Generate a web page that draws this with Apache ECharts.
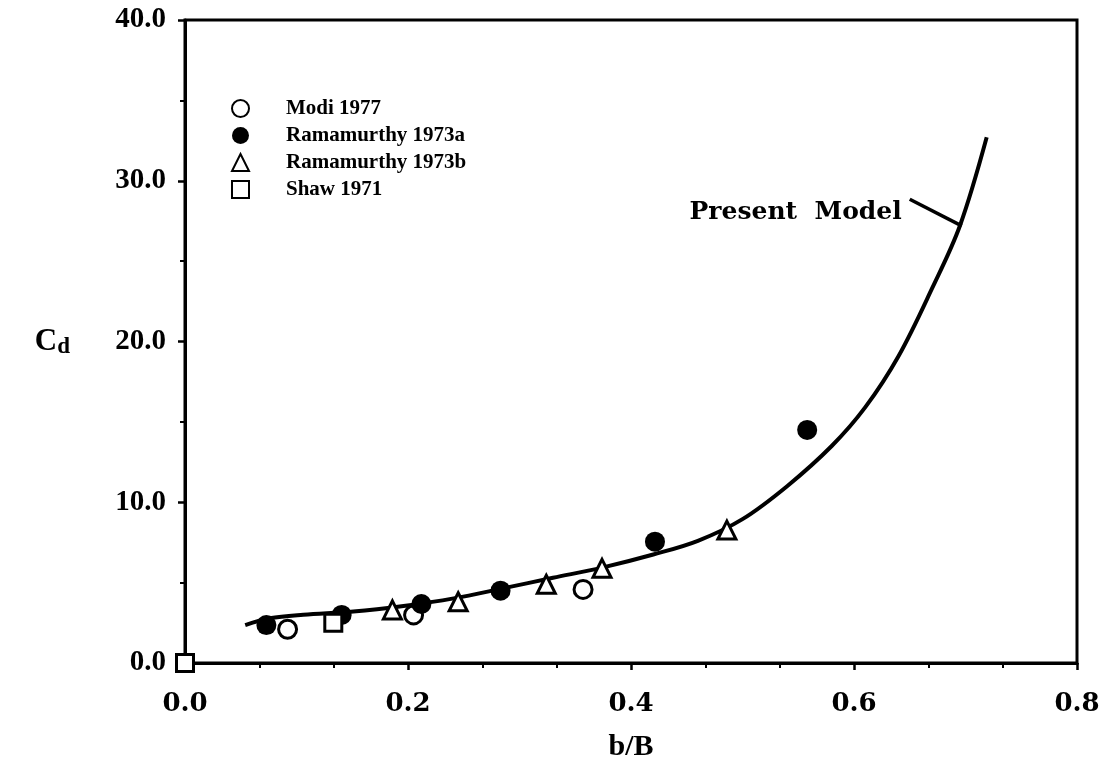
<!DOCTYPE html>
<html>
<head>
<meta charset="utf-8">
<title>Cd vs b/B</title>
<script src="https://cdn.jsdelivr.net/npm/echarts@6/dist/echarts.min.js"></script>
<style>
  html, body { margin: 0; padding: 0; background: #fff; }
  #chart { width: 1112px; height: 775px; }
</style>
</head>
<body>
<div id="chart"></div>
<script>
// data
const modiX = [0.092, 0.205, 0.357]
const modiY = [2.10, 2.99, 4.58]
const ramaAX = [0.073, 0.1405, 0.212, 0.283, 0.4215, 0.558]
const ramaAY = [2.36, 2.99, 3.67, 4.50, 7.55, 14.5]
const ramaBX = [0.186, 0.245, 0.324, 0.374, 0.486]
const ramaBY = [3.30, 3.81, 4.90, 5.89, 8.27]
const shawX = [0.0, 0.133]
const shawY = [0.0, 2.51]

// present model curve
const modelX = [0.054, 0.076, 0.106, 0.151, 0.196, 0.241, 0.285, 0.330, 0.375, 0.420, 0.460, 0.500, 0.540, 0.580, 0.610, 0.640, 0.670, 0.695, 0.719]
const modelY = [2.36, 2.78, 3.00, 3.20, 3.55, 4.02, 4.64, 5.30, 5.95, 6.75, 7.60, 8.95, 11.00, 13.50, 15.90, 19.10, 23.30, 27.20, 32.70]

// leader line for the "Present Model" note
const leaderX = [0.650, 0.6966]
const leaderY = [28.85, 27.19]

const xTicks = [0.0, 0.2, 0.4, 0.6, 0.8]
const yTicks = [0, 10, 20, 30, 40]

const zip = (xs, ys) => xs.map((x, i) => [x, ys[i]])

const serif = 'Liberation Serif'
const wideSerif = 'DejaVu Serif'

const chart = echarts.init(document.getElementById('chart'))

chart.setOption({
  animation: false,
  backgroundColor: '#fff',
  grid: {
    left: 185, right: 35, top: 20, bottom: 112,
    show: true, borderColor: '#000', borderWidth: 3, backgroundColor: 'transparent'
  },
  legend: {
    data: ['Modi 1977', 'Ramamurthy 1973a', 'Ramamurthy 1973b', 'Shaw 1971'],
    orient: 'vertical',
    left: 226, top: 93,
    itemWidth: 17, itemHeight: 17, itemGap: 6,
    textStyle: {
      fontFamily: serif, fontWeight: 'bold', fontSize: 21, color: '#000',
      padding: [0, 0, 0, 32]
    }
  },
  xAxis: {
    type: 'value',
    min: xTicks[0], max: xTicks[xTicks.length - 1], interval: 0.2,
    name: 'b/B', nameLocation: 'middle', nameGap: 69,
    nameTextStyle: { fontFamily: serif, fontWeight: 'bold', fontSize: 30, color: '#000' },
    axisLine: { lineStyle: { color: '#000', width: 3 } },
    axisTick: { show: true, length: 7, lineStyle: { color: '#000', width: 2.5 } },
    minorTick: { show: true, splitNumber: 3, length: 5, lineStyle: { color: '#000', width: 2 } },
    splitLine: { show: false },
    axisLabel: {
      margin: 28,
      fontFamily: wideSerif, fontWeight: 'bold', fontSize: 26, color: '#000',
      formatter: v => v.toFixed(1)
    }
  },
  yAxis: {
    type: 'value',
    min: yTicks[0], max: yTicks[yTicks.length - 1], interval: 10,
    name: '{c|C}{d|d}', nameLocation: 'middle', nameRotate: 0, nameGap: 115,
    nameTextStyle: {
      rich: {
        c: { fontFamily: serif, fontWeight: 'bold', fontSize: 31, color: '#000' },
        d: { fontFamily: serif, fontWeight: 'bold', fontSize: 23, color: '#000', padding: [12, 0, 0, 0] }
      }
    },
    axisLine: { lineStyle: { color: '#000', width: 3 } },
    axisTick: { show: true, length: 7, lineStyle: { color: '#000', width: 2.5 } },
    minorTick: { show: true, splitNumber: 2, length: 5, lineStyle: { color: '#000', width: 2 } },
    splitLine: { show: false },
    axisLabel: {
      margin: 19,
      fontFamily: serif, fontWeight: 'bold', fontSize: 29, color: '#000',
      formatter: v => v.toFixed(1)
    }
  },
  series: [
    {
      name: 'Present Model',
      type: 'line',
      data: zip(modelX, modelY),
      smooth: 0.35,
      showSymbol: false,
      lineStyle: { color: '#000', width: 4 },
      z: 2
    },
    {
      name: 'leader',
      type: 'line',
      data: zip(leaderX, leaderY).map((p, i) => i === 0 ? {
        value: p,
        label: {
          show: true, position: 'left', distance: 8, offset: [0, 13],
          formatter: 'Present  Model',
          fontFamily: wideSerif, fontWeight: 'bold', fontSize: 25, color: '#000'
        }
      } : { value: p }),
      showSymbol: true,
      symbolSize: 0,
      lineStyle: { color: '#000', width: 3.5 },
      z: 2
    },
    {
      name: 'Modi 1977',
      type: 'scatter',
      data: zip(modiX, modiY),
      symbol: 'circle', symbolSize: 18,
      itemStyle: { color: '#fff', borderColor: '#000', borderWidth: 3, opacity: 1 },
      clip: false, z: 3
    },
    {
      name: 'Ramamurthy 1973a',
      type: 'scatter',
      data: zip(ramaAX, ramaAY),
      symbol: 'circle', symbolSize: 20,
      itemStyle: { color: '#000', borderColor: '#000', borderWidth: 0, opacity: 1 },
      clip: false, z: 3
    },
    {
      name: 'Ramamurthy 1973b',
      type: 'scatter',
      data: zip(ramaBX, ramaBY),
      symbol: 'triangle', symbolSize: 18,
      itemStyle: { color: '#fff', borderColor: '#000', borderWidth: 3, opacity: 1 },
      clip: false, z: 3
    },
    {
      name: 'Shaw 1971',
      type: 'scatter',
      data: zip(shawX, shawY),
      symbol: 'rect', symbolSize: 17,
      itemStyle: { color: '#fff', borderColor: '#000', borderWidth: 3, opacity: 1 },
      clip: false, z: 4
    }
  ]
})
</script>
</body>
</html>
